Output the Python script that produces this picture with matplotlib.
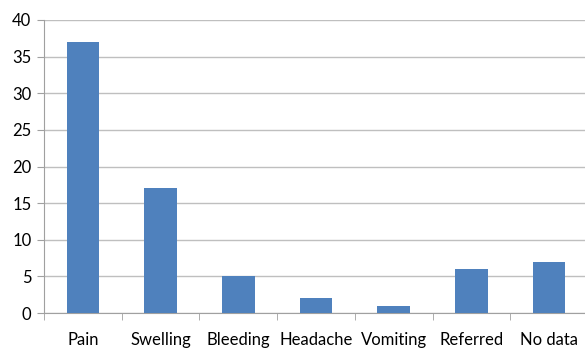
import numpy as np
import matplotlib.pyplot as plt

categories = ["Pain", "Swelling", "Bleeding", "Headache", "Vomiting", "Referred", "No data"]
values = [37, 17, 5, 2, 1, 6, 7]

plt.rcParams["font.family"] = ["Lato", "DejaVu Sans"]

fig = plt.figure(figsize=(5.85, 3.48), dpi=100)
ax = fig.add_axes([44 / 585, 1 - 313 / 348, 7 * 77.7 / 585, 293 / 348])

x = np.arange(len(categories))
ax.bar(x, values, width=0.42, color="#4F81BD", zorder=3)

ax.set_xlim(-0.5, len(categories) - 0.5)
ax.set_ylim(0, 40)
ax.set_yticks(range(0, 41, 5))
ax.yaxis.grid(True, color="#BFBFBF", linewidth=1)

ax.set_xticks(x)
ax.set_xticklabels(categories, fontsize=12)
ax.set_xticks(np.arange(-0.5, len(categories)), minor=True)
ax.tick_params(axis="x", which="major", length=0, pad=14)
ax.tick_params(axis="x", which="minor", length=5, color="#A0A0A0", direction="out")
ax.tick_params(axis="y", length=5, color="#A0A0A0", labelsize=12, pad=4)

for side in ["top", "right"]:
    ax.spines[side].set_visible(False)
for side in ["left", "bottom"]:
    ax.spines[side].set_color("#A0A0A0")

fig.savefig("out.png", dpi=100)
